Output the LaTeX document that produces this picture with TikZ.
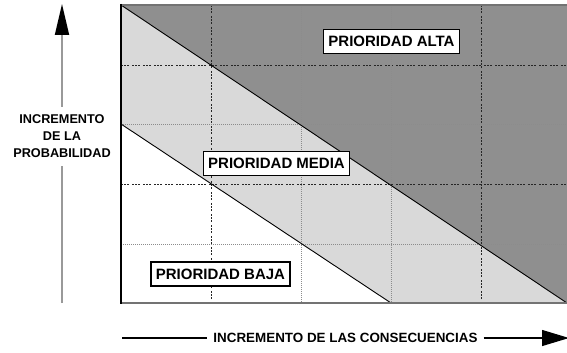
\documentclass[tikz,border=0pt]{standalone}
\usepackage{fontspec}
\setmainfont{Liberation Sans}
\usetikzlibrary{arrows.meta,positioning}
\definecolor{altagris}{gray}{0.56}
\definecolor{mediagris}{gray}{0.85}
\begin{document}
\begin{tikzpicture}[x=1pt,y=-1pt,
  prioridad/.style={draw,line width=1.3pt,fill=white,inner xsep=5pt,minimum height=24pt,
    font=\fontsize{15}{18}\selectfont\bfseries},
  ejetexto/.style={font=\fontsize{12.7}{17}\selectfont\bfseries,align=center},
  rejillaA/.style={black!85,line width=0.8pt,dash pattern=on 2pt off 1pt on 2pt off 1pt on 2pt off 3pt},
  rejillaB/.style={black!45,line width=0.8pt,dash pattern=on 1pt off 1pt}]
\useasboundingbox (0,0) rectangle (567,353);
\fill[mediagris] (121,5) rectangle (567,303);
\fill[white] (121,124) -- (391,303) -- (121,303) -- cycle;
\fill[altagris] (121,5) -- (567,5) -- (567,303) -- cycle;
\draw[rejillaA] (121,65) -- (567,65) (121,184) -- (567,184);
\draw[rejillaB] (121,124) -- (567,124) (121,244) -- (567,244);
\draw[rejillaA] (211,5) -- (211,303) (481,5) -- (481,303);
\draw[rejillaB] (301,5) -- (301,303) (391,5) -- (391,303);
\draw[line width=0.9pt] (121,5) -- (567,303) (121,124) -- (391,303);
\draw[black!55,line width=1.6pt] (121,5) -- (567,5) (121,303) -- (567,303);
\draw[line width=1.3pt] (121,4) -- (121,304);
\node[prioridad] (alta) at (391.5,41.5) {PRIORIDAD ALTA};
\node[prioridad] (media) at (276.5,163.5) {PRIORIDAD MEDIA};
\node[prioridad] (baja) at (220.5,274) {PRIORIDAD BAJA};
\node[ejetexto,inner ysep=8pt] (probab) at (62,136.5) {INCREMENTO\\DE LA\\PROBABILIDAD};
\coordinate (yabajo) at (62,303);
\coordinate (yarriba) at (62,4);
\draw[black!40,line width=1.8pt] (yabajo) -- (probab.south);
\draw[black!40,line width=1.8pt,-{Triangle[length=31pt,width=14pt,fill=black,color=black]}] (probab.north) -- (yarriba);
\node[ejetexto,font=\fontsize{13.4}{16}\selectfont\bfseries,inner xsep=6pt] (consec) at (345.5,338) {INCREMENTO DE LAS CONSECUENCIAS};
\coordinate (xizq) at (122,338);
\coordinate (xder) at (569,338);
\draw[line width=1.1pt] (xizq) -- (consec.west);
\draw[line width=1.1pt,-{Triangle[length=27pt,width=16pt]}] (consec.east) -- (xder);
\end{tikzpicture}
\end{document}
